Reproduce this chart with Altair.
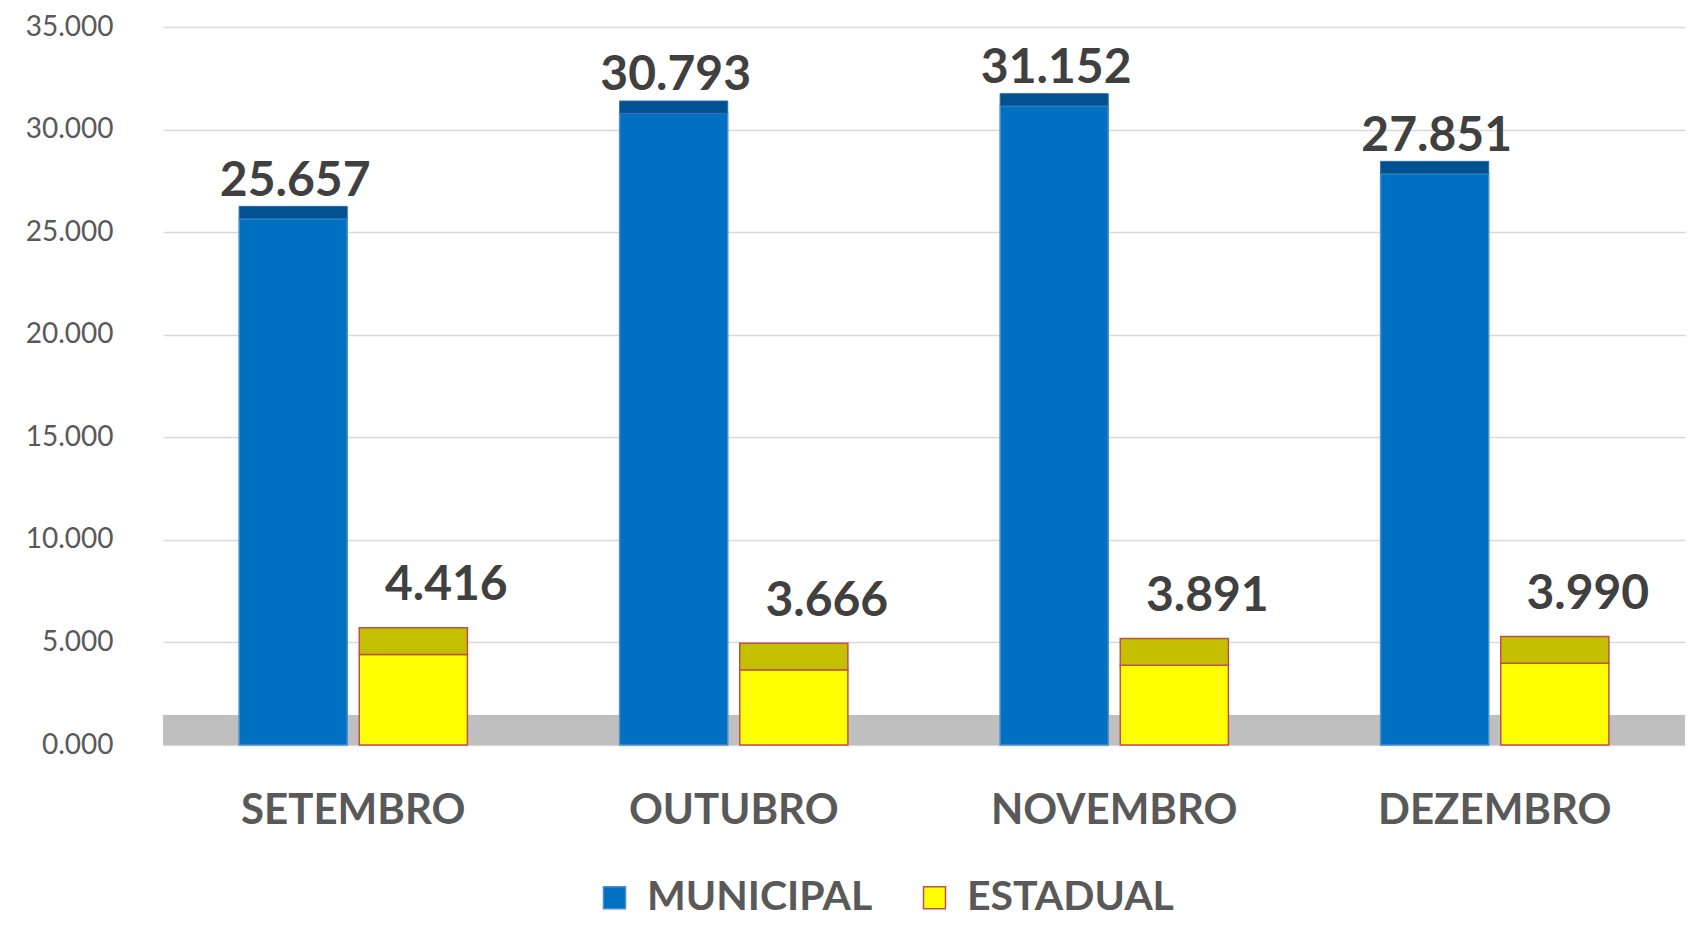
import altair as alt
import pandas as pd

months = ["SETEMBRO", "OUTUBRO", "NOVEMBRO", "DEZEMBRO"]
series = ["MUNICIPAL", "ESTADUAL"]
municipal = [25.657, 30.793, 31.152, 27.851]
estadual = [4.416, 3.666, 3.891, 3.990]
y_ticks = [0, 5, 10, 15, 20, 25, 30, 35]

rows = []
for i, m in enumerate(months):
    rows.append({"month": m, "series": "MUNICIPAL", "value": municipal[i]})
    rows.append({"month": m, "series": "ESTADUAL", "value": estadual[i]})
df = pd.DataFrame(rows)

W, H = 1522, 718
FONT = "Lato"

x_enc = alt.X("month:N", sort=months, title=None,
              scale=alt.Scale(paddingInner=0.4, paddingOuter=0.2),
              axis=alt.Axis(labelFontSize=42, labelFontWeight="bold", labelColor="#595959",
                            labelFont=FONT, labelPadding=45, tickSize=0, ticks=False,
                            domain=False, labelAngle=0, labelLimit=0, grid=False))
xo_enc = alt.XOffset("series:N", sort=series, scale=alt.Scale(paddingInner=0.1))
y_scale = alt.Scale(domain=[0, 35], nice=False)
y_axis = alt.Axis(values=y_ticks, format=".3f", labelFontSize=28, labelColor="#595959",
                  labelFont=FONT, labelPadding=50, tickSize=0, ticks=False, domain=False,
                  gridColor="#D9D9D9", gridWidth=1.5, labelLimit=0)

base = alt.Chart(df)

floor = alt.Chart(pd.DataFrame({"a": [0], "b": [1.46]})).mark_rect(color="#BFBFBF").encode(
    y=alt.Y("a:Q", scale=y_scale, axis=y_axis, title=None), y2="b:Q",
    x=alt.value(0), x2=alt.value(W))

leg = alt.Legend(orient="none", legendX=431, legendY=850, direction="horizontal", title=None,
                 labelFontSize=41, labelFontWeight="bold", labelColor="#595959", labelFont=FONT,
                 symbolType="square", symbolSize=484, symbolStrokeWidth=1.5, labelOffset=12,
                 columnPadding=41, labelLimit=0)

bars = base.mark_bar(strokeWidth=1.5).encode(
    x=x_enc, xOffset=xo_enc,
    y=alt.Y("value:Q", scale=y_scale, axis=y_axis, title=None),
    color=alt.Color("series:N", sort=series,
                    scale=alt.Scale(domain=series, range=["#0070C0", "#FFFF00"]), legend=leg),
    stroke=alt.Stroke("series:N", sort=series,
                      scale=alt.Scale(domain=series, range=["#4A8FD0", "#C0504D"]), legend=leg),
)

cap_m = base.transform_filter(alt.datum.series == "MUNICIPAL").transform_calculate(
    top="datum.value + 0.6").mark_bar(color="#00518F", stroke="#2F6FAF", strokeWidth=1).encode(
    x=alt.X("month:N", sort=months), xOffset=xo_enc,
    y=alt.Y("value:Q", scale=y_scale), y2="top:Q")

cap_e = base.transform_filter(alt.datum.series == "ESTADUAL").transform_calculate(
    top="datum.value + 1.3").mark_bar(color="#C4C000", stroke="#C0504D", strokeWidth=1.5).encode(
    x=alt.X("month:N", sort=months), xOffset=xo_enc,
    y=alt.Y("value:Q", scale=y_scale), y2="top:Q")

lab_m = base.transform_filter(alt.datum.series == "MUNICIPAL").mark_text(
    fontSize=48, fontWeight="bold", color="#404040", font=FONT, baseline="middle", dy=-37, dx=2
).encode(x=alt.X("month:N", sort=months), xOffset=xo_enc,
         y=alt.Y("value:Q", scale=y_scale), text=alt.Text("value:Q", format=".3f"))

lab_e = base.transform_filter(alt.datum.series == "ESTADUAL").mark_text(
    fontSize=48, fontWeight="bold", color="#404040", font=FONT, baseline="middle", dy=-68, dx=33
).encode(x=alt.X("month:N", sort=months), xOffset=xo_enc,
         y=alt.Y("value:Q", scale=y_scale), text=alt.Text("value:Q", format=".3f"))

chart = alt.layer(floor, bars, cap_m, cap_e, lab_m, lab_e).properties(
    width=W, height=H,
    autosize=alt.AutoSizeParams(type="none"),
    padding={"left": 155, "top": 19, "right": 1, "bottom": 175},
).configure_view(stroke=None)

chart.save("out.html", embed_options={"renderer": "svg", "actions": False})
